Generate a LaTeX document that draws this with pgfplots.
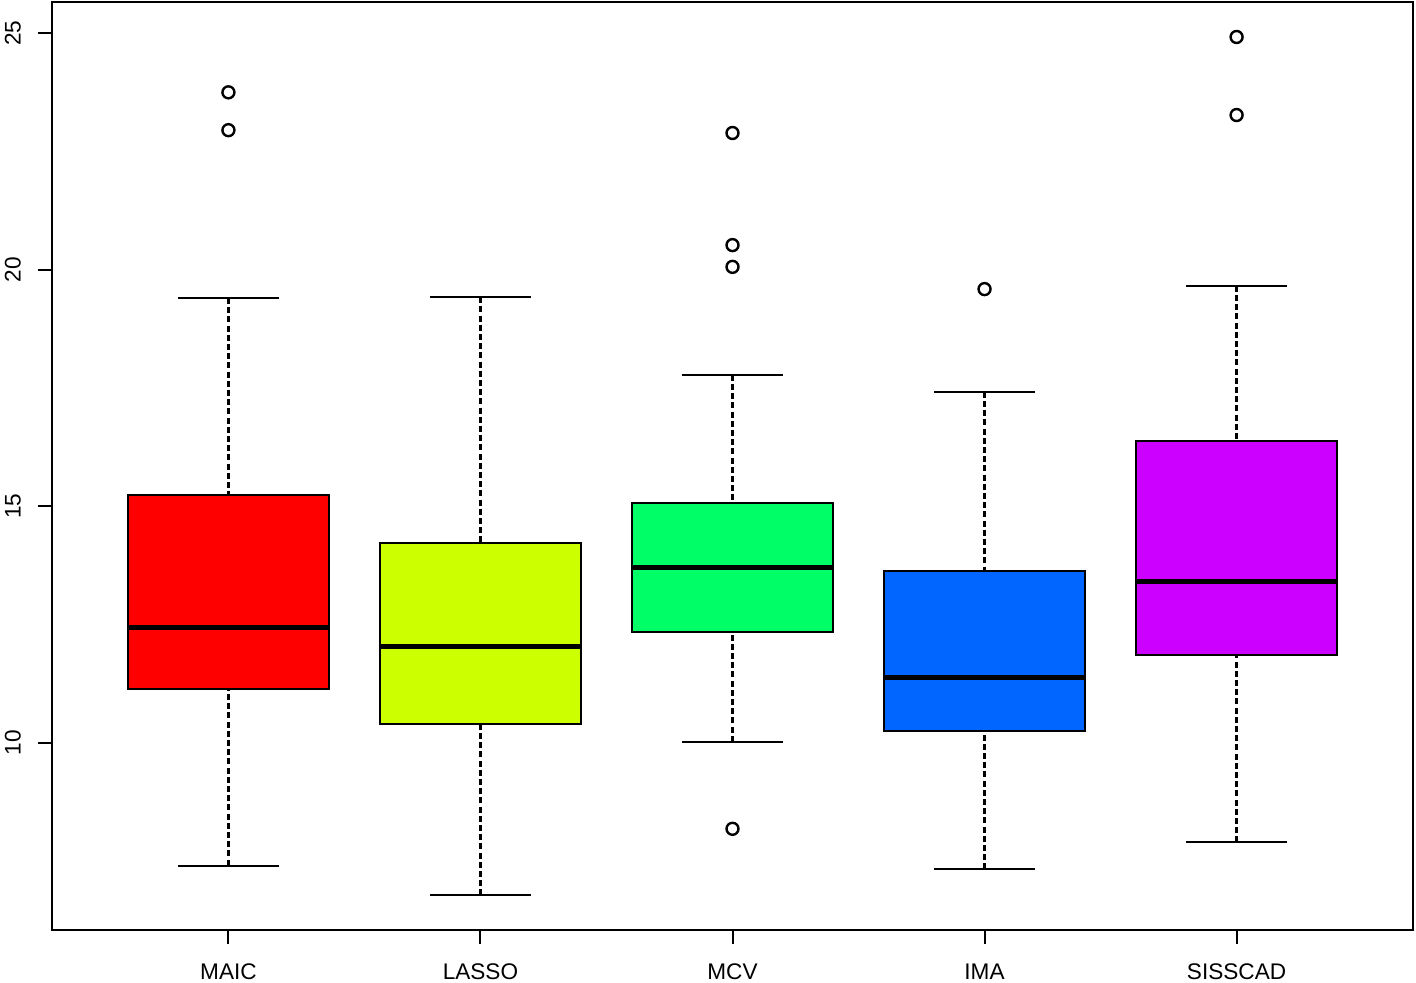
\documentclass[border=0pt]{standalone}
\usepackage{fontspec}
\setmainfont{Liberation Sans}
\usepackage{pgfplots}
\pgfplotsset{compat=1.18}
\usepgfplotslibrary{statistics}

% R rainbow(5)
\definecolor{c1}{HTML}{FF0000}
\definecolor{c2}{HTML}{CCFF00}
\definecolor{c3}{HTML}{00FF66}
\definecolor{c4}{HTML}{0066FF}
\definecolor{c5}{HTML}{CC00FF}

\pgfplotsset{
  rbox/.style={
    boxplot/draw direction=y,
    boxplot/box extend=0.8,
    boxplot/whisker extend=0.4,
    boxplot/every box/.style={draw=black, line width=1pt, fill=#1},
    boxplot/every median/.style={draw=black, line width=2.5pt},
    boxplot/draw/lower whisker/.code={
      \draw[black, line width=1.3pt, dash pattern=on 3pt off 1.6pt]
        (boxplot box cs:\pgfplotsboxplotvalue{lower whisker},0.5)
        -- (boxplot box cs:\pgfplotsboxplotvalue{lower quartile},0.5);
      \draw[black, line width=1pt]
        (boxplot whisker cs:\pgfplotsboxplotvalue{lower whisker},0)
        -- (boxplot whisker cs:\pgfplotsboxplotvalue{lower whisker},1);
    },
    boxplot/draw/upper whisker/.code={
      \draw[black, line width=1.3pt, dash pattern=on 3pt off 1.6pt]
        (boxplot box cs:\pgfplotsboxplotvalue{upper whisker},0.5)
        -- (boxplot box cs:\pgfplotsboxplotvalue{upper quartile},0.5);
      \draw[black, line width=1pt]
        (boxplot whisker cs:\pgfplotsboxplotvalue{upper whisker},0)
        -- (boxplot whisker cs:\pgfplotsboxplotvalue{upper whisker},1);
    },
    draw=black, mark=o, mark size=3pt,
    mark options={solid, black, line width=1.2pt, fill=none},
  },
}

\begin{document}
\begin{tikzpicture}
\begin{axis}[
  scale only axis,
  width=680.5pt, height=464pt,
  xmin=0.3, xmax=5.7,
  ymin=6.04, ymax=25.66,
  xtick={1,2,3,4,5},
  xticklabels={MAIC,LASSO,MCV,IMA,SISSCAD},
  ytick={10,15,20,25},
  tick pos=left,
  tick align=outside,
  major tick length=7pt,
  every tick/.style={black, line width=1pt},
  axis line style={black, line width=1.2pt},
  tick label style={font=\fontsize{11.3}{13}\selectfont},
  /pgf/number format/assume math mode=true,
  xticklabel style={yshift=-6.5pt},
  yticklabel style={xshift=-5pt, rotate=90, anchor=south},
]

% MAIC
\addplot[rbox=c1, boxplot prepared={draw position=1,
  lower whisker=7.40, lower quartile=11.14, median=12.43,
  upper quartile=15.24, upper whisker=19.40}]
  table[row sep=\\, y index=0] {y\\ 23.75\\ 22.95\\};

% LASSO
\addplot[rbox=c2, boxplot prepared={draw position=2,
  lower whisker=6.77, lower quartile=10.40, median=12.03,
  upper quartile=14.23, upper whisker=19.42}]
  coordinates {};

% MCV
\addplot[rbox=c3, boxplot prepared={draw position=3,
  lower whisker=10.02, lower quartile=12.35, median=13.70,
  upper quartile=15.07, upper whisker=17.78}]
  table[row sep=\\, y index=0] {y\\ 22.89\\ 20.52\\ 20.06\\ 8.18\\};

% IMA
\addplot[rbox=c4, boxplot prepared={draw position=4,
  lower whisker=7.32, lower quartile=10.25, median=11.37,
  upper quartile=13.63, upper whisker=17.42}]
  table[row sep=\\, y index=0] {y\\ 19.59\\};

% SISSCAD
\addplot[rbox=c5, boxplot prepared={draw position=5,
  lower whisker=7.89, lower quartile=11.86, median=13.40,
  upper quartile=16.38, upper whisker=19.66}]
  table[row sep=\\, y index=0] {y\\ 24.92\\ 23.27\\};

\end{axis}
\pgfresetboundingbox
\path ([shift={(-26pt,-26.5pt)}]current axis.south west)
  rectangle ([shift={(1.5pt,1pt)}]current axis.north east);
\end{tikzpicture}
\end{document}
